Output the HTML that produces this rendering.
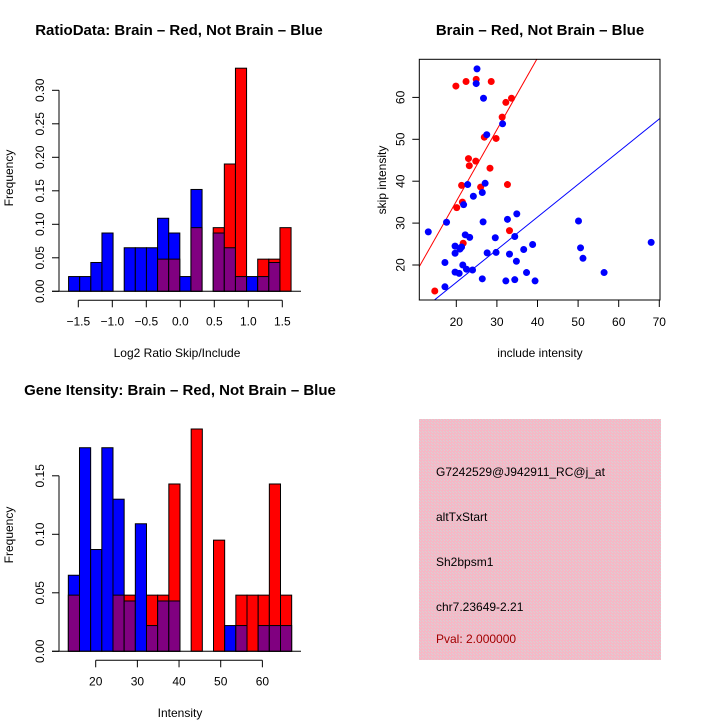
<!DOCTYPE html>
<html><head><meta charset="utf-8"><style>
body{margin:0;background:#fff}
svg text{font-family:"Liberation Sans",sans-serif;fill:#000}
</style></head><body>
<svg id="s" width="720" height="720" viewBox="0 0 720 720" xmlns="http://www.w3.org/2000/svg">
<defs><pattern id="hatch" width="3" height="3" patternUnits="userSpaceOnUse"><rect width="3" height="3" fill="#f5b8c6"/><rect x="0" y="0" width="1" height="1" fill="#d8d0d4"/><rect x="2" y="2" width="1" height="1" fill="#d8d0d4"/></pattern></defs>
<g id="p1"></g>
<g id="p2"></g>
<g id="p3"></g>
<g>
<rect x="419" y="419" width="242" height="241" fill="url(#hatch)"/>
<text x="436" y="476" font-size="12">G7242529@J942911_RC@j_at</text>
<text x="436" y="521" font-size="12">altTxStart</text>
<text x="436" y="566" font-size="12">Sh2bpsm1</text>
<text x="436" y="611" font-size="12">chr7.23649-2.21</text>
<text x="436" y="643" font-size="12" style="fill:#a00000">Pval: 2.000000</text>
</g>
</svg>
<script>
// Ratio histogram data
const ratioBinStart = -1.643, ratioBinWidth = 0.1636;
const ratioBlue = [0.022,0.022,0.043,0.087,0,0.065,0.065,0.065,0.109,0.087,0.022,0.152,0,0.087,0.065,0.022,0.022,0.022,0.043,0];
const ratioRed  = [0,0,0,0,0,0,0,0,0.048,0.048,0,0.095,0,0.095,0.190,0.333,0,0.048,0.048,0.095];
const ratioXTicks = [-1.5,-1.0,-0.5,0.0,0.5,1.0,1.5];
const ratioXLabels = ["\u22121.5","\u22121.0","\u22120.5","0.0","0.5","1.0","1.5"];
const ratioYTicks = [0,0.05,0.10,0.15,0.20,0.25,0.30];
const ratioYLabels = ["0.00","0.05","0.10","0.15","0.20","0.25","0.30"];
// Intensity histogram data
const intBinStart = 13.43, intBinWidth = 2.68;
const intBlue = [0.065,0.174,0.087,0.174,0.130,0.043,0.109,0.022,0.043,0.043,0,0,0,0,0.022,0.022,0,0.022,0.022,0.022];
const intRed  = [0.048,0,0,0,0.048,0.048,0,0.048,0.048,0.143,0,0.190,0,0.095,0,0.048,0.048,0.048,0.143,0.048];
const intXTicks = [20,30,40,50,60];
const intYTicks = [0,0.05,0.10,0.15];
const intYLabels = ["0.00","0.05","0.10","0.15"];
// Scatter data
const redX = [14.7,19.9,22.4,24.9,28.6,32.2,33.6,31.3,26.9,29.8,23.0,23.2,24.8,28.3,21.3,26.0,32.6,21.5,20.1,33.1,21.7];
const redY = [13.8,62.7,63.8,64.3,63.8,58.8,59.8,55.3,50.5,50.2,45.4,43.7,44.8,43.1,39.0,38.6,39.2,35.0,33.7,28.2,25.2];
const blueX = [25.1,24.9,26.7,27.5,31.4,22.8,27.1,26.4,24.2,21.8,17.6,26.6,32.6,34.9,13.1,22.2,23.3,34.4,29.6,19.7,21.3,20.9,19.7,27.6,29.8,33.1,36.6,38.8,34.8,17.2,21.6,19.7,20.7,22.5,24.0,37.3,26.4,32.2,34.4,39.4,17.2,50.1,50.6,51.2,56.4,68.0];
const blueY = [66.8,63.3,59.8,51.1,53.7,39.2,39.5,37.3,36.4,34.4,30.2,30.3,30.9,32.2,27.9,27.2,26.6,26.8,26.5,24.5,24.3,23.8,22.8,22.9,23.0,22.6,23.7,24.9,20.9,20.6,20.0,18.3,18.0,19.0,18.8,18.2,16.7,16.2,16.5,16.2,14.8,30.5,24.1,21.6,18.2,25.4];
const redFit = [1.0,1.71];   // intercept, slope
const blueFit = [0.25,0.78];
const scXTicks = [20,30,40,50,60,70];
const scYTicks = [20,30,40,50,60];

const NS="http://www.w3.org/2000/svg";
function mk(parent,tag,attrs,text){const e=document.createElementNS(NS,tag);for(const k in attrs)e.setAttribute(k,attrs[k]);if(text!==undefined)e.textContent=text;parent.appendChild(e);return e;}

function hist(g,opt){
  const sx=v=>opt.x0px+(v-opt.x0)*opt.kx, sy=v=>opt.base-v*opt.ky;
  for(let i=0;i<opt.blue.length;i++){
    const a=opt.binStart+i*opt.binW, b=a+opt.binW;
    const x1=sx(a), x2=sx(b), bl=opt.blue[i], rd=opt.red[i];
    const hi=Math.max(bl,rd), lo=Math.min(bl,rd);
    if(hi>0){
      const r=mk(g,'rect',{x:x1,y:sy(hi),width:x2-x1,height:sy(0)-sy(hi),fill:bl>=rd?'#0000ff':'#ff0000',stroke:'#000','stroke-width':1});
      
      
    }
    if(lo>0){
      const r=mk(g,'rect',{x:x1,y:sy(lo),width:x2-x1,height:sy(0)-sy(lo),fill:'#800080',stroke:'#000','stroke-width':1});
      
      
    }
  }
  const bl=mk(g,'line',{x1:52,x2:301,y1:opt.base,y2:opt.base,stroke:'#000'});
  
  
  const xa=mk(g,'g',{});
  
  
  const ay=opt.base+9;
  mk(xa,'line',{x1:sx(opt.xt[0]),x2:sx(opt.xt[opt.xt.length-1]),y1:ay,y2:ay,stroke:'#000'});
  opt.xt.forEach((t,i)=>{mk(xa,'line',{x1:sx(t),x2:sx(t),y1:ay,y2:ay+7,stroke:'#000'});
    const tx=mk(xa,'text',{x:sx(t),y:ay+25,'font-size':12,'text-anchor':'middle'},opt.xl[i]);
    
    });
  const ya=mk(g,'g',{});
  
  
  const axx=59;
  mk(ya,'line',{x1:axx,x2:axx,y1:sy(opt.yt[0]),y2:sy(opt.yt[opt.yt.length-1]),stroke:'#000'});
  opt.yt.forEach((t,i)=>{mk(ya,'line',{x1:axx-7,x2:axx,y1:sy(t),y2:sy(t),stroke:'#000'});
    const tx=mk(ya,'text',{x:0,y:0,'font-size':12,'text-anchor':'middle',transform:`translate(${axx-15},${sy(t)}) rotate(-90)`},opt.yl[i]);
    
    });
}

const p1=document.getElementById('p1');
hist(p1,{blue:ratioBlue,red:ratioRed,binStart:ratioBinStart,binW:ratioBinWidth,x0:-1.5,x0px:78.3,kx:68,base:291.3,ky:670,xt:ratioXTicks,xl:ratioXLabels,yt:ratioYTicks,yl:ratioYLabels});
const t1=mk(p1,'text',{x:179,y:35,'font-size':15,'font-weight':'bold','text-anchor':'middle'},'RatioData: Brain \u2013 Red, Not Brain \u2013 Blue');


const xt1=mk(p1,'text',{x:177,y:357,'font-size':12,'text-anchor':'middle'},'Log2 Ratio Skip/Include');


const yt1=mk(p1,'text',{x:0,y:0,'font-size':12,'text-anchor':'middle',transform:'translate(13,178) rotate(-90)'},'Frequency');



const p3=document.getElementById('p3');
hist(p3,{blue:intBlue,red:intRed,binStart:intBinStart,binW:intBinWidth,x0:20,x0px:95.7,kx:4.167,base:651.3,ky:1170,xt:intXTicks,xl:intXTicks.map(String),yt:intYTicks,yl:intYLabels});
const t3=mk(p3,'text',{x:180,y:395,'font-size':15,'font-weight':'bold','text-anchor':'middle'},'Gene Itensity: Brain \u2013 Red, Not Brain \u2013 Blue');


const xt3=mk(p3,'text',{x:180,y:717,'font-size':12,'text-anchor':'middle'},'Intensity');


const yt3=mk(p3,'text',{x:0,y:0,'font-size':12,'text-anchor':'middle',transform:'translate(13,535) rotate(-90)'},'Frequency');



const p2=document.getElementById('p2');
const L=419.3,R=660,T=59.3,B=300;
const sx=v=>456.3+(v-20)*4.06, sy=v=>265-(v-20)*4.19;
const clip=mk(p2,'clipPath',{id:'cl'});mk(clip,'rect',{x:L,y:T,width:R-L,height:B-T});
const fg=mk(p2,'g',{'clip-path':'url(#cl)'});
[[redFit,'#ff0000','red-fit-line'],[blueFit,'#0000ff','blue-fit-line']].forEach(([f,c,n])=>{
  const x1=5,x2=80;
  const l=mk(fg,'line',{x1:sx(x1),y1:sy(f[0]+f[1]*x1),x2:sx(x2),y2:sy(f[0]+f[1]*x2),stroke:c,'stroke-width':1});
  
  
});
redX.forEach((x,i)=>{const c=mk(p2,'circle',{cx:sx(x),cy:sy(redY[i]),r:3.5,fill:'#ff0000'});
  
  });
blueX.forEach((x,i)=>{const c=mk(p2,'circle',{cx:sx(x),cy:sy(blueY[i]),r:3.5,fill:'#0000ff'});
  
  });
const box=mk(p2,'rect',{x:L,y:T,width:R-L,height:B-T,fill:'none',stroke:'#000'});


scXTicks.forEach(t=>{mk(p2,'line',{x1:sx(t),x2:sx(t),y1:B,y2:B+7,stroke:'#000'});
  const tx=mk(p2,'text',{x:sx(t),y:B+26,'font-size':12,'text-anchor':'middle'},String(t));
  
  });
scYTicks.forEach(t=>{mk(p2,'line',{x1:L-7,x2:L,y1:sy(t),y2:sy(t),stroke:'#000'});
  const tx=mk(p2,'text',{x:0,y:0,'font-size':12,'text-anchor':'middle',transform:`translate(${L-15},${sy(t)}) rotate(-90)`},String(t));
  
  });
const t2=mk(p2,'text',{x:540,y:35,'font-size':15,'font-weight':'bold','text-anchor':'middle'},'Brain \u2013 Red, Not Brain \u2013 Blue');


const xt2=mk(p2,'text',{x:540,y:357,'font-size':12,'text-anchor':'middle'},'include intensity');


const yt2=mk(p2,'text',{x:0,y:0,'font-size':12,'text-anchor':'middle',transform:'translate(386,180) rotate(-90)'},'skip intensity');


</script>
</body></html>
